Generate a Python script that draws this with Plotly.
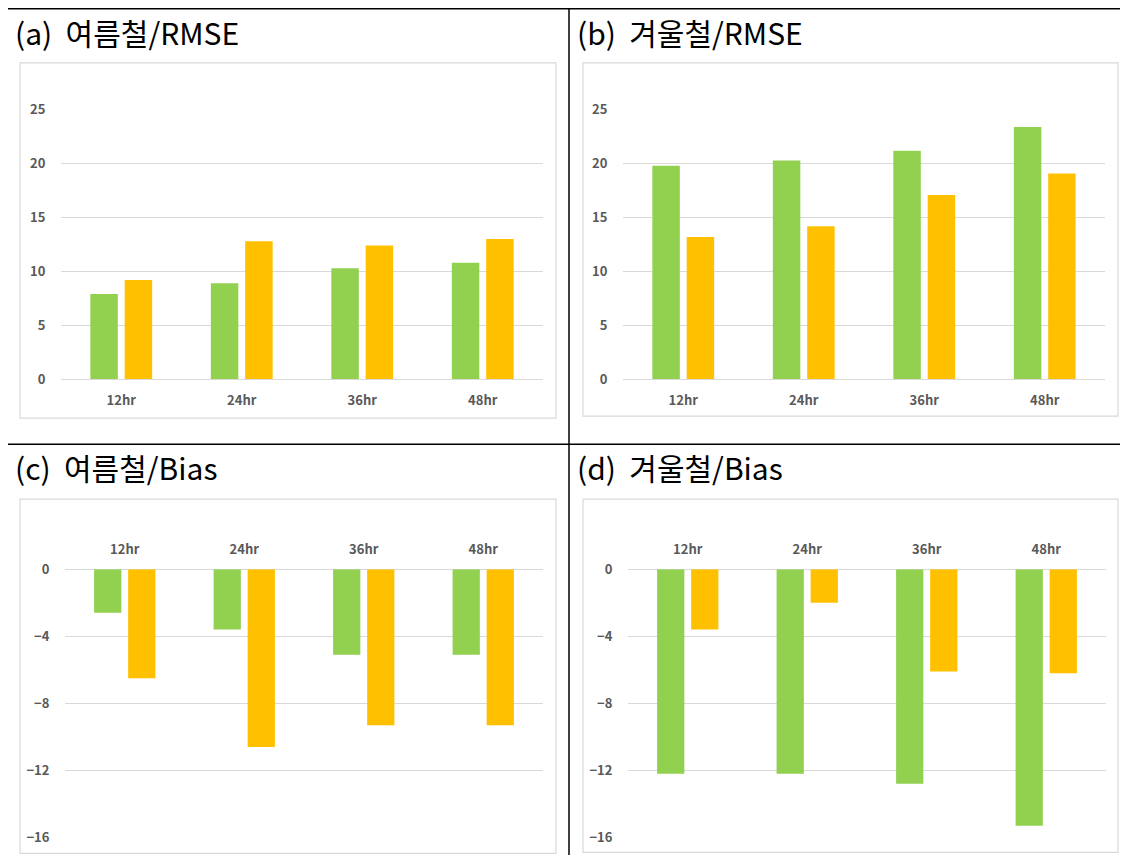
import plotly.graph_objects as go

# reference picture size, and how the page maps figure pixels onto it:
# the graph sits OFF_X / OFF_Y css pixels from the corner and the shot
# is squeezed vertically by SY
W, H = 1128, 855
OFF_X, OFF_Y = 8, 17.6
SY = 855 / 875
FIG_W, FIG_H = W - OFF_X, 860

hours = ["12hr", "24hr", "36hr", "48hr"]

# (a) 여름철 RMSE
summer_rmse_green = [7.9, 8.9, 10.3, 10.8]
summer_rmse_orange = [9.2, 12.8, 12.4, 13.0]
# (b) 겨울철 RMSE
winter_rmse_green = [19.8, 20.3, 21.2, 23.4]
winter_rmse_orange = [13.2, 14.2, 17.1, 19.1]
# (c) 여름철 Bias
summer_bias_green = [-2.6, -3.6, -5.1, -5.1]
summer_bias_orange = [-6.5, -10.6, -9.3, -9.3]
# (d) 겨울철 Bias
winter_bias_green = [-12.2, -12.2, -12.8, -15.3]
winter_bias_orange = [-3.6, -2.0, -6.1, -6.2]

titles = ["(a)  여름철/RMSE", "(b)  겨울철/RMSE", "(c)  여름철/Bias", "(d)  겨울철/Bias"]

GREEN = "#92D050"
ORANGE = "#FFC000"
GRID = "#D9D9D9"
LABEL = "#595959"
FONT = "Noto Sans CJK KR"


def px(x):
    return (x - OFF_X) / FIG_W


def py(y):
    return 1 - (y / SY - OFF_Y) / FIG_H


def dom_x(left, right):
    return [px(left), px(right)]


def dom_y(top, bottom):
    return [py(bottom), py(top)]


fig = go.Figure()

panels = [
    (summer_rmse_green, summer_rmse_orange),
    (winter_rmse_green, winter_rmse_orange),
    (summer_bias_green, summer_bias_orange),
    (winter_bias_green, winter_bias_orange),
]

for i, (g, o) in enumerate(panels):
    n = "" if i == 0 else str(i + 1)
    fig.add_trace(go.Bar(x=hours, y=g, marker_color=GREEN, marker_line_width=0,
                         xaxis="x" + n, yaxis="y" + n, name="green", showlegend=False))
    fig.add_trace(go.Bar(x=hours, y=o, marker_color=ORANGE, marker_line_width=0,
                         xaxis="x" + n, yaxis="y" + n, name="orange", showlegend=False))

tickfont = dict(family=FONT, size=13, color=LABEL, weight="bold")

xdoms = [dom_x(61, 543), dom_x(623, 1105), dom_x(65, 543), dom_x(628, 1106)]
ydoms = [dom_y(109, 378), dom_y(109, 378), dom_y(568, 836), dom_y(568, 836)]

axes = {}
for i in range(4):
    n = "" if i == 0 else str(i + 1)
    bias = i >= 2
    axes["xaxis" + n] = dict(
        domain=xdoms[i], anchor="y" + n, side="top" if bias else "bottom",
        showgrid=False, showline=False, zeroline=False,
        ticks="outside", ticklen=9, tickcolor="rgba(0,0,0,0)",
        tickfont=tickfont, fixedrange=True,
    )
    axes["yaxis" + n] = dict(
        domain=ydoms[i], anchor="x" + n,
        range=[-16, 0] if bias else [0, 25], dtick=4 if bias else 5,
        showgrid=True, gridcolor=GRID, gridwidth=1,
        zeroline=True, zerolinecolor=GRID, zerolinewidth=1, showline=False,
        ticks="outside", ticklen=12, tickcolor="rgba(0,0,0,0)",
        tickfont=tickfont, fixedrange=True,
    )

# chart frames and page dividers
boxes = [(20, 62, 556, 417), (583, 62, 1118, 415), (20, 498, 556, 852), (583, 498, 1118, 851)]
shapes = []
for x0, y0, x1, y1 in boxes:
    shapes.append(dict(type="rect", xref="paper", yref="paper",
                       x0=px(x0), x1=px(x1), y0=py(y1), y1=py(y0),
                       line=dict(color=GRID, width=1.2), layer="below"))
for x0, y0, x1, y1 in [(0, 8, W, 8), (0, 443, W, 443), (569, 8, 569, H)]:
    shapes.append(dict(type="line", xref="paper", yref="paper",
                       x0=px(x0), x1=px(x1), y0=py(y0), y1=py(y1),
                       line=dict(color="black", width=1.5)))

title_pos = [(13, 31), (575, 31), (13, 466), (575, 466)]
annotations = []
for t, (x, y) in zip(titles, title_pos):
    annotations.append(dict(text=t, xref="paper", yref="paper", x=px(x), y=py(y),
                            xanchor="left", yanchor="middle", showarrow=False,
                            font=dict(family=FONT, size=30, color="black")))

fig.update_layout(
    width=FIG_W, height=FIG_H, margin=dict(l=0, r=0, t=0, b=0),
    paper_bgcolor="white", plot_bgcolor="white",
    barmode="group", bargap=0.43, bargroupgap=0.2,
    shapes=shapes, annotations=annotations, **axes,
)

fig.write_html("out.html")
